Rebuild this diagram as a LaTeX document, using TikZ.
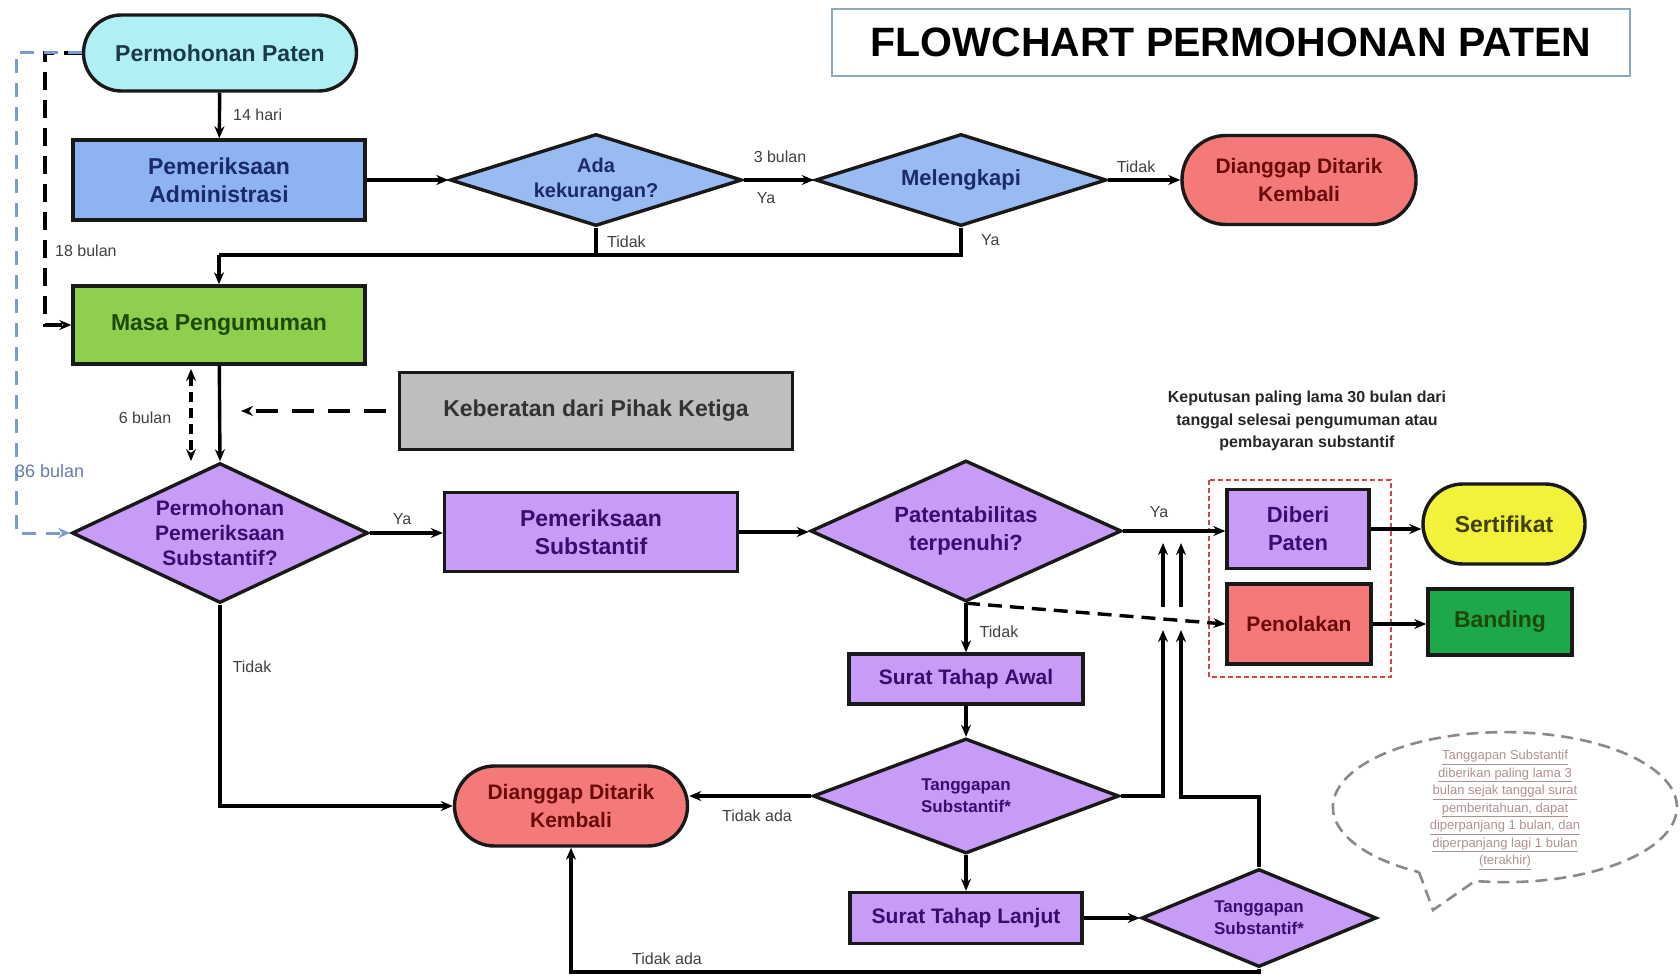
\documentclass[tikz,border=0pt]{standalone}
\usepackage{fontspec}
\setmainfont{Liberation Sans}
\usetikzlibrary{shapes.geometric,arrows.meta}
\definecolor{cyanfill}{HTML}{B0F0F5}
\definecolor{bluefill}{HTML}{8DB3F2}
\definecolor{bluediam}{HTML}{9ABAF2}
\definecolor{redfill}{HTML}{F47A7A}
\definecolor{greenfill}{HTML}{8ED04E}
\definecolor{grayfill}{HTML}{BEBEBE}
\definecolor{purplefill}{HTML}{C79CF7}
\definecolor{yellowfill}{HTML}{F2F23A}
\definecolor{dkgreenfill}{HTML}{1EA84C}
\definecolor{navytext}{HTML}{1B2A6B}
\definecolor{purpletext}{HTML}{3D0A70}
\definecolor{redtext}{HTML}{6A0A0A}
\definecolor{greentext}{HTML}{1D4A06}
\definecolor{teltext}{HTML}{1A3A4A}
\definecolor{olivetext}{HTML}{3F3F00}
\definecolor{dashblue}{HTML}{7C9CD0}
\definecolor{boxred}{HTML}{D04848}
\definecolor{titleedge}{HTML}{8AA8C0}
\definecolor{bubblegray}{HTML}{8A8A8A}
\definecolor{bubbletext}{HTML}{B09090}
\begin{document}
\begin{tikzpicture}[x=1pt,y=-1pt,
  box/.style={draw=black!90,line width=3.4pt,inner sep=0pt,align=center,
    font=\bfseries\fontsize{23}{28}\selectfont},
  term/.style={box,rounded corners=38pt},
  dia/.style={box,diamond,font=\bfseries\fontsize{21}{25}\selectfont},
  arr/.style={line width=3.4pt,-{Stealth[length=12pt,width=10pt]}},
  ln/.style={line width=3.4pt},
  lbl/.style={font=\fontsize{16}{18}\selectfont,text=black!75,inner sep=1pt},
  dasharr/.style={arr,dash pattern=on 14pt off 8pt},
]
\useasboundingbox (0,0) rectangle (1680,976);

% title
\node[draw=titleedge,line width=2.2pt,minimum width=798pt,minimum height=67pt,inner sep=0pt,
  font=\bfseries\fontsize{41}{45}\selectfont] (title) at (1231,42.5) {FLOWCHART PERMOHONAN PATEN};

% nodes
\node[term,fill=cyanfill,text=teltext,minimum width=273pt,minimum height=76pt] (pp) at (220,53) {Permohonan Paten};
\node[box,fill=bluefill,text=navytext,minimum width=292pt,minimum height=80pt] (pa) at (219,180) {Pemeriksaan\\Administrasi};
\node[dia,fill=bluediam,text=navytext,minimum width=292pt,minimum height=92pt,shape aspect=3.17,
  font=\bfseries\fontsize{20}{25}\selectfont] (ada) at (596,180) {Ada\\kekurangan?};
\node[dia,fill=bluediam,text=navytext,minimum width=291pt,minimum height=92pt,shape aspect=3.16,
  font=\bfseries\fontsize{22}{26}\selectfont] (mel) at (961,180) {Melengkapi};
\node[term,fill=redfill,text=redtext,rounded corners=44pt,minimum width=234pt,minimum height=89pt,
  font=\bfseries\fontsize{21}{28}\selectfont] (dk1) at (1299,180) {Dianggap Ditarik\\Kembali};
\node[box,fill=greenfill,text=greentext,minimum width=292pt,minimum height=78pt] (masa) at (219,325) {Masa Pengumuman};
\node[box,fill=grayfill,text=black!80,minimum width=393pt,minimum height=77pt] (keb) at (596,411) {Keberatan dari Pihak Ketiga};
\node[dia,fill=purplefill,text=purpletext,minimum width=296pt,minimum height=140pt,shape aspect=2.11] (pps) at (220,533) {Permohonan\\Pemeriksaan\\Substantif?};
\node[box,fill=purplefill,text=purpletext,minimum width=293pt,minimum height=79pt] (ps) at (591,532) {Pemeriksaan\\Substantif};
\node[dia,fill=purplefill,text=purpletext,minimum width=311pt,minimum height=141pt,shape aspect=2.2,
  font=\bfseries\fontsize{22}{28}\selectfont] (pt) at (966,531) {Patentabilitas\\terpenuhi?};
\node[box,fill=purplefill,text=purpletext,minimum width=142pt,minimum height=79pt,
  font=\bfseries\fontsize{22}{28}\selectfont] (dp) at (1298,529) {Diberi\\Paten};
\node[box,fill=redfill,text=redtext,minimum width=144pt,minimum height=80pt,
  font=\bfseries\fontsize{21}{26}\selectfont] (pen) at (1299,624) {Penolakan};
\node[term,fill=yellowfill,text=olivetext,rounded corners=40pt,minimum width=162pt,minimum height=80pt] (sert) at (1504,524) {Sertifikat};
\node[box,fill=dkgreenfill,text=greentext,minimum width=144pt,minimum height=66pt] (band) at (1500,622) {Banding};
\node[box,fill=purplefill,text=purpletext,minimum width=234pt,minimum height=50pt,
  font=\bfseries\fontsize{21}{26}\selectfont] (sta) at (966,679) {Surat Tahap Awal};
\node[dia,fill=purplefill,text=purpletext,minimum width=306pt,minimum height=115pt,shape aspect=2.66,
  font=\bfseries\fontsize{17}{22}\selectfont] (ts1) at (966,796) {Tanggapan\\Substantif*};
\node[box,fill=purplefill,text=purpletext,minimum width=232pt,minimum height=51pt,
  font=\bfseries\fontsize{21}{26}\selectfont] (stl) at (966,918) {Surat Tahap Lanjut};
\node[dia,fill=purplefill,text=purpletext,minimum width=235pt,minimum height=98pt,shape aspect=2.4,
  font=\bfseries\fontsize{17}{22}\selectfont] (ts2) at (1259,918) {Tanggapan\\Substantif*};
\node[term,fill=redfill,text=redtext,rounded corners=40pt,minimum width=233pt,minimum height=80pt,
  font=\bfseries\fontsize{21}{28}\selectfont] (dk2) at (571,806) {Dianggap Ditarik\\Kembali};

% red dashed group box
\draw[boxred,line width=2.6pt,dash pattern=on 5pt off 3pt] (1209,480) rectangle (1391,677);

% annotation
\node[font=\bfseries\fontsize{16}{22.5}\selectfont,text=black!85,align=center] (note) at (1307,421)
  {Keputusan paling lama 30 bulan dari\\tanggal selesai pengumuman atau\\pembayaran substantif};

% speech bubble
\draw[bubblegray,line width=2.6pt,dash pattern=on 12pt off 7pt]
  (1419,872) -- (1433,910) -- (1475,881)
  arc[start angle=100,end angle=-240,x radius=172,y radius=75];
\node[font=\fontsize{13}{17.5}\selectfont,text=bubbletext,align=center] (bub) at (1505,810)
  {\underline{Tanggapan Substantif}\\\underline{diberikan paling lama 3}\\\underline{bulan sejak tanggal surat}\\\underline{pemberitahuan, dapat}\\\underline{diperpanjang 1 bulan, dan}\\\underline{diperpanjang lagi 1 bulan}\\\underline{(terakhir)}};

% coordinates
\coordinate (jt) at (219,255);
\coordinate (c18) at (45,200);
\coordinate (c36) at (16,300);
\coordinate (kebend) at (241,411);
\coordinate (s6a) at (191,369);
\coordinate (s6b) at (191,461);
\coordinate (g1a) at (1163,630);
\coordinate (g1b) at (1163,607);
\coordinate (g1c) at (1163,543);
\coordinate (g2k) at (1181,797);
\coordinate (g2a) at (1181,630);
\coordinate (g2b) at (1181,607);
\coordinate (g2c) at (1181,543);
\coordinate (bot) at (1259,972);

% connectors
\draw[arr] (pp) -- (pa);
\draw[arr] (pa) -- (ada);
\draw[arr] (ada.east) -- (mel.west);
\draw[arr] (mel.east) -- (dk1.west);
\draw[ln] (ada.south) |- (jt);
\draw[ln] (mel.south) |- (jt);
\draw[arr] (jt) -- (masa.north);
\draw[arr] (masa) -- (pps.north);
\draw[arr,dash pattern=on 22pt off 14pt,line width=3.6pt,shorten <=12pt] (keb.west) -- (kebend);
\draw[line width=3.2pt,dash pattern=on 10pt off 6pt,{Stealth[length=12pt,width=10pt]}-{Stealth[length=12pt,width=10pt]}] (s6a) -- (s6b);
\draw[arr,dash pattern=on 18pt off 10pt,line width=3.6pt] (pp.west) -| (c18) |- (masa.west);
\draw[arr,dashblue,dash pattern=on 14pt off 10pt,line width=3pt] (pp.west) -| (c36) |- (pps.west);
\draw[arr] (pps.east) -- (pps.east -| ps.west);
\draw[arr] (pps.south) |- (dk2.west);
\draw[arr] (ps.east) -- (ps.east -| pt.west);
\draw[arr] (pt.east) -- (pt.east -| dp.west);
\draw[arr] (pt.south) -- (sta.north);
\draw[dasharr] (pt.south) -- (pen.west);
\draw[arr] (dp.east) -- (dp.east -| sert.west);
\draw[arr] (pen.east) -- (pen.east -| band.west);
\draw[arr] (sta) -- (ts1.north);
\draw[arr] (ts1.south) -- (stl);
\draw[arr] (stl) -- (ts2.west);
\draw[arr] (ts1.west) -- (ts1.west -| dk2.east);
\draw[arr] (ts2.south) -- (bot) -| (dk2.south);
\draw[arr] (ts1.east) -| (g1a);
\draw[arr] (g1b) -- (g1c);
\draw[arr] (ts2.north) |- (g2k) -- (g2a);
\draw[arr] (g2b) -- (g2c);

% labels
\node[lbl,anchor=west] (l14) at (232,115) {14 hari};
\node[lbl] (l3b) at (780,157) {3 bulan};
\node[lbl] (lya1) at (766,198) {Ya};
\node[lbl] (ltd1) at (1136,167) {Tidak};
\node[lbl,anchor=west] (ltd2) at (606,242) {Tidak};
\node[lbl,anchor=west] (lya2) at (980,240) {Ya};
\node[lbl,anchor=west] (l18) at (54,251) {18 bulan};
\node[lbl] (l6) at (145,418) {6 bulan};
\node[lbl,anchor=west,text=dashblue!80!black,font=\fontsize{18}{20}\selectfont] (l36) at (14,471) {36 bulan};
\node[lbl] (lya3) at (402,519) {Ya};
\node[lbl] (ltd3) at (252,667) {Tidak};
\node[lbl] (lya4) at (1159,512) {Ya};
\node[lbl] (ltd4) at (999,632) {Tidak};
\node[lbl] (lta1) at (757,816) {Tidak ada};
\node[lbl] (lta2) at (667,959) {Tidak ada};
\end{tikzpicture}
\end{document}
